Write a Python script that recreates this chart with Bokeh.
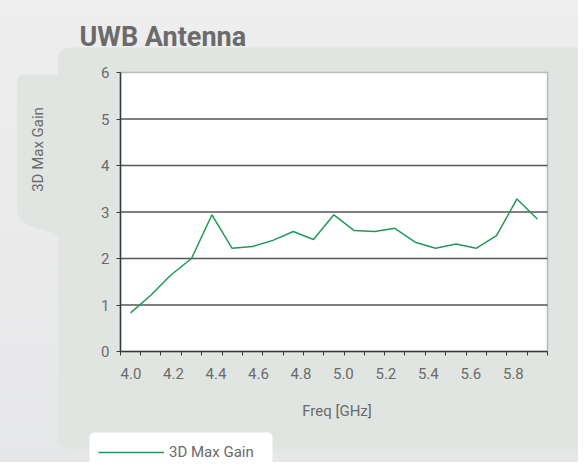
import math
from urllib.parse import quote
from bokeh.plotting import figure
from bokeh.models import (FixedTicker, Label, Legend, LegendItem, ColumnDataSource,
                          BoxAnnotation)
from bokeh.embed import file_html
from bokeh.resources import INLINE

# ---------------- data ----------------
freq_ghz = [3.998, 4.093, 4.189, 4.285, 4.381, 4.476, 4.572, 4.668, 4.764, 4.859,
            4.955, 5.051, 5.147, 5.242, 5.338, 5.434, 5.530, 5.625, 5.721, 5.817, 5.913]
gain_3d_max = [0.83, 1.21, 1.65, 2.00, 2.94, 2.22, 2.26, 2.39, 2.58, 2.41,
               2.94, 2.60, 2.58, 2.65, 2.35, 2.22, 2.31, 2.22, 2.49, 3.28, 2.85]
x_tick_values = [4.0, 4.2, 4.4, 4.6, 4.8, 5.0, 5.2, 5.4, 5.6, 5.8]
x_tick_labels = ["4.0", "4.2", "4.4", "4.6", "4.8", "5.0", "5.2", "5.4", "5.6", "5.8"]
y_tick_values = [0, 1, 2, 3, 4, 5, 6]
y_min, y_max = 0, 6
title_text = "UWB Antenna"
series_name = "3D Max Gain"
x_axis_title = "Freq [GHz]"
y_axis_title = "3D Max Gain"

# category boundaries (ticks sit between the points)
mids = [(a + b) / 2 for a, b in zip(freq_ghz[:-1], freq_ghz[1:])]
x_start = freq_ghz[0] - (mids[0] - freq_ghz[0])
x_end = freq_ghz[-1] + (freq_ghz[-1] - mids[-1])
boundaries = [x_start] + mids + [x_end]

PANEL = "#e0e5e2"
TXT = "#6a6a6a"
DARK = "#3a3a3a"
GRID = "#555555"
GREEN = "#1f9a57"
FONT = "Roboto"

# canvas and plot-area geometry (pixels)
W, H = 578, 462
PL, PR, PT, PB = 120, 547, 72, 351

# the frame covers the whole canvas; ranges chosen so that the plot area sits at PL..PR, PT..PB
kx = (x_end - x_start) / (PR - PL)
ky = (y_max - y_min) / (PB - PT)
x_rng = (x_start - PL * kx, x_start + (W - PL) * kx)
y_rng = (y_min - (H - PB) * ky, y_min + PB * ky)

panel_svg = (
    f"<svg xmlns='http://www.w3.org/2000/svg' width='{W}' height='{H}'>"
    f"<rect x='58' y='47.5' width='527' height='401.5' rx='10' ry='10' fill='{PANEL}'/>"
    f"<path fill='{PANEL}' d='M64 74.3 L25 74.3 Q17 74.3 17 82.3 L17 210 "
    f"C18 219 24 224 33 226.7 L50 231.7 C55 233.2 57 235 58.3 237 L64 240 Z'/>"
    "</svg>"
)
bg_css = (f'url("data:image/svg+xml,{quote(panel_svg, safe="")}") no-repeat 0 0, '
          "linear-gradient(to bottom, #efeeee, #e6e7e9)")

p = figure(width=W, height=H, output_backend="svg", toolbar_location=None,
           x_range=x_rng, y_range=y_rng, min_border=0)
p.min_border_left = p.min_border_right = p.min_border_top = p.min_border_bottom = 0
p.styles = {"background": bg_css}
p.border_fill_color = None
p.background_fill_color = None
p.outline_line_color = None
p.title.visible = False
p.xgrid.visible = False
p.ygrid.visible = False

# white plot area with dark border
p.add_layout(BoxAnnotation(left=x_start, right=x_end, bottom=y_min, top=y_max,
                           fill_color="white", fill_alpha=1, line_color=DARK,
                           line_width=1.5, level="image"))

# horizontal gridlines limited to the plot area
grid_y = [t for t in y_tick_values if y_min < t < y_max]
p.segment(x0=[x_start] * len(grid_y), x1=[x_end] * len(grid_y), y0=grid_y, y1=grid_y,
          line_color=GRID, line_width=1.4)

src = ColumnDataSource(dict(freq=freq_ghz, gain=gain_3d_max))
line_r = p.line("freq", "gain", source=src, line_color=GREEN, line_width=1.5)

# axes pinned to the plot-area edges
xa = p.xaxis[0]
ya = p.yaxis[0]
xa.fixed_location = y_min
xa.bounds = (x_start, x_end)
ya.fixed_location = x_start
ya.bounds = (y_min, y_max)
xa.ticker = FixedTicker(ticks=x_tick_values, minor_ticks=boundaries)
xa.major_label_overrides = {v: l for v, l in zip(x_tick_values, x_tick_labels)}
ya.ticker = FixedTicker(ticks=y_tick_values, minor_ticks=[])
for ax in (xa, ya):
    ax.axis_line_color = DARK
    ax.axis_line_width = 1.5
    ax.major_tick_line_color = DARK
    ax.minor_tick_line_color = DARK
    ax.major_label_text_font = FONT
    ax.major_label_text_font_size = "15px"
    ax.major_label_text_color = TXT
xa.major_tick_in = 0
xa.major_tick_out = 0
xa.minor_tick_in = 0
xa.minor_tick_out = 4
xa.major_label_standoff = 12
ya.major_tick_in = 0
ya.major_tick_out = 4
ya.minor_tick_in = 0
ya.minor_tick_out = 0
ya.major_label_standoff = 7

def sy(py):
    return H - py

# texts
p.add_layout(Label(x=79, y=sy(36.7), x_units="screen", y_units="screen",
                   text=title_text, text_font=FONT, text_font_size="27px",
                   text_font_style="bold", text_color="#6b6b6b",
                   text_baseline="alphabetic", text_align="left"))
p.add_layout(Label(x=37, y=sy(149), x_units="screen", y_units="screen",
                   text=y_axis_title, text_font=FONT, text_font_size="15px",
                   text_color=TXT, angle=math.pi / 2,
                   text_baseline="middle", text_align="center"))
p.add_layout(Label(x=(PL + PR) / 2 + 3, y=sy(410.7), x_units="screen", y_units="screen",
                   text=x_axis_title, text_font=FONT, text_font_size="15px",
                   text_color=TXT, text_baseline="middle", text_align="center"))

# legend: white rounded card, then the legend entry on top of it
card_kw = dict(left=89, right=272, bottom=sy(472), top=sy(432),
               left_units="screen", right_units="screen",
               bottom_units="screen", top_units="screen",
               fill_color="white", fill_alpha=1, line_color=None, level="annotation")
if "border_radius" in BoxAnnotation.properties():
    card_kw["border_radius"] = 5
p.add_layout(BoxAnnotation(**card_kw))

legend = Legend(items=[LegendItem(label=series_name, renderers=[line_r])],
                location=(98, 0), orientation="vertical",
                background_fill_color=None, border_line_color=None,
                padding=0, spacing=0, margin=0,
                glyph_width=66, glyph_height=20, label_height=20, label_standoff=5,
                label_text_font=FONT, label_text_font_size="15px", label_text_color=TXT)
p.add_layout(legend)

open("out.html", "w").write(file_html(p, INLINE))
